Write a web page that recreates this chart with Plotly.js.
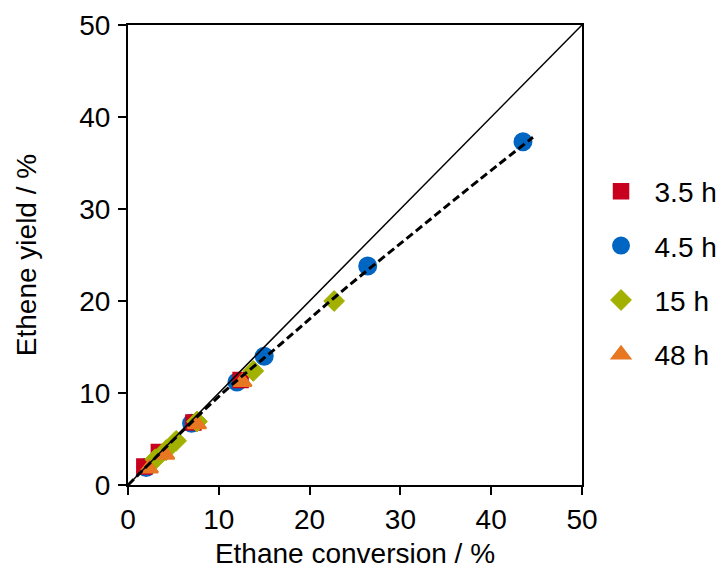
<!DOCTYPE html>
<html>
<head>
<meta charset="utf-8">
<script src="https://cdn.plot.ly/plotly-3.0.1.min.js"></script>
<style>html,body{margin:0;padding:0;background:#fff;}#chart{width:724px;height:569px;}</style>
</head>
<body>
<div id="chart"></div>
<script>
// Data
var seriesNames = ['3.5 h', '4.5 h', '15 h', '48 h'];

var x35 = [1.8, 3.4, 7.2, 12.4];
var y35 = [2.0, 3.6, 6.8, 11.4];

var x45 = [2.0, 7.0, 12.0, 15.0, 26.4, 43.5];
var y45 = [1.9, 6.7, 11.2, 14.0, 23.8, 37.3];

var x15 = [3.0, 4.2, 5.3, 7.6, 13.8, 22.7];
var y15 = [2.8, 3.8, 4.8, 6.9, 12.4, 20.0];

var x48 = [2.3, 4.1, 7.6, 12.6];
var y48 = [1.8, 3.3, 6.6, 11.2];

// y = x reference line
var diagX = [0, 50];
var diagY = [0, 50];

// dashed trend curve
var fitX = [0, 10.2, 16.8, 23.0, 32.2, 37.2, 44.6];
var fitY = [0, 9.8, 15.3, 20.6, 28.0, 32.0, 37.8];

var font = 'Liberation Sans, Arial, sans-serif';
var fs = 28;
var cRed = '#C8001E', cBlue = '#0066C2', cGreen = '#A2B000', cOrange = '#E87722';

var traces = [
  {x: x45, y: y45, name: seriesNames[1], mode: 'markers', type: 'scatter', legendrank: 2, legendgroup: 'b',
   marker: {symbol: 'circle', size: 17, color: cBlue, line: {color: cBlue, width: 2}}},
  {x: x35, y: y35, name: seriesNames[0], mode: 'markers', type: 'scatter', legendrank: 1, legendgroup: 'a',
   marker: {symbol: 'square', size: 15, color: cRed, line: {color: cRed, width: 1.5}}},
  {x: x15, y: y15, name: seriesNames[2], mode: 'markers', type: 'scatter', legendrank: 3, legendgroup: 'c',
   marker: {symbol: 'diamond', size: 16, color: cGreen, line: {color: cGreen, width: 1}}},
  {x: x48, y: y48, name: seriesNames[3], mode: 'markers', type: 'scatter', legendrank: 4, legendgroup: 'd',
   marker: {symbol: 'triangle-up', size: 16, color: cOrange, line: {color: cOrange, width: 2}}},
  {x: diagX, y: diagY, mode: 'lines', type: 'scatter', showlegend: false, hoverinfo: 'skip',
   line: {color: '#000', width: 1.5}},
  {x: fitX, y: fitY, mode: 'lines', type: 'scatter', showlegend: false, hoverinfo: 'skip',
   line: {color: '#000', width: 3, dash: '8px,4px', shape: 'spline'}}
];

var axisCommon = {
  range: [0, 50],
  dtick: 10,
  tick0: 0,
  showgrid: false,
  zeroline: false,
  showline: true,
  linecolor: '#000',
  linewidth: 2,
  mirror: true,
  ticks: 'outside',
  ticklen: 8,
  tickwidth: 2,
  tickcolor: '#000',
  tickfont: {family: font, size: fs, color: '#000'}
};

var layout = {
  width: 724,
  height: 569,
  margin: {l: 128, r: 142, t: 25, b: 84},
  paper_bgcolor: '#fff',
  plot_bgcolor: '#fff',
  font: {family: font, size: fs, color: '#000'},
  xaxis: Object.assign({}, axisCommon, {
    automargin: false,
    title: {text: 'Ethane conversion / %', font: {family: font, size: fs, color: '#000'}, standoff: 12}
  }),
  yaxis: Object.assign({}, axisCommon, {
    automargin: false,
    ticklabelstandoff: 2,
    title: {text: 'Ethene yield / %', font: {family: font, size: fs, color: '#000'}, standoff: 34}
  }),
  legend: {
    xref: 'container', yref: 'container',
    x: 0.8115, y: 0.7074, xanchor: 'left', yanchor: 'top',
    traceorder: 'grouped',
    tracegroupgap: 15,
    itemwidth: 57,
    font: {family: font, size: fs, color: '#000'},
    bgcolor: 'rgba(0,0,0,0)'
  },
  showlegend: true
};

Plotly.newPlot('chart', traces, layout, {displayModeBar: false, staticPlot: true});
</script>
</body>
</html>
